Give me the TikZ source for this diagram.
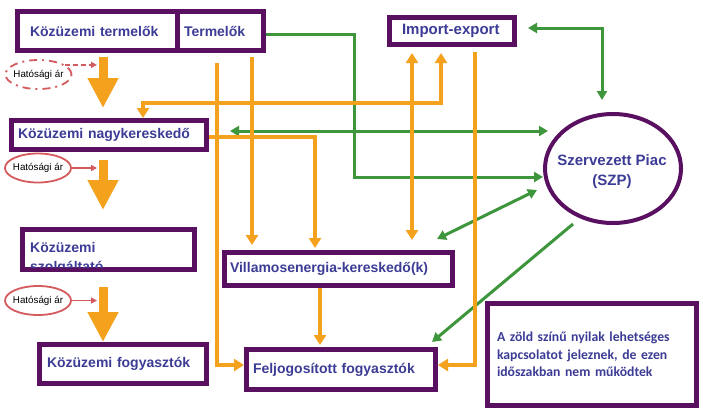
\documentclass[tikz,border=0pt]{standalone}
\usepackage{fontspec}
\setmainfont{Liberation Sans}
\newfontfamily\notefont{Carlito}
\usetikzlibrary{arrows.meta, shapes.geometric, calc}
\definecolor{PURPLE}{HTML}{5A1060}
\definecolor{BLUE}{HTML}{3C3C96}
\definecolor{ORANGE}{HTML}{F4A11E}
\definecolor{GREEN}{HTML}{3E963C}
\definecolor{RED}{HTML}{D45A5E}

\begin{document}
\begin{tikzpicture}[x=1pt, y=-1pt,
    box/.style={draw=PURPLE, line width=5pt, inner sep=0pt, align=left, text=BLUE, font=\fontsize{14}{17}\selectfont\bfseries},
    hat/.style={ellipse, draw=RED, line width=1.8pt, inner sep=0pt, minimum width=66pt, minimum height=29pt, font=\fontsize{9.8}{11}\selectfont},
    redarr/.style={RED, line width=1.5pt, -{Triangle[width=6pt,length=6pt]}, shorten >=6pt},
    bigarr/.style={ORANGE, line width=9pt, -{Triangle[width=29pt,length=30pt]}},
    oline/.style={ORANGE, line width=4pt},
    gline/.style={GREEN, line width=3pt},
    otip/.tip={Triangle[width=12pt,length=10pt]},
    gtip/.tip={Triangle[width=10pt,length=9pt]}]
    \fill[white] (0,0) rectangle (703,416);
    \useasboundingbox (0,0) rectangle (703,416);

    % routing columns and rows
    \coordinate (bigcol) at (103,0);
    \coordinate (colA) at (217,0);
    \coordinate (colB) at (252,0);
    \coordinate (colC) at (315,0);
    \coordinate (colD) at (143,0);
    \coordinate (colE) at (441,0);
    \coordinate (colF) at (412,0);
    \coordinate (colG) at (475,0);
    \coordinate (colH) at (320,0);
    \coordinate (colI) at (354,0);
    \coordinate (colJ) at (602,0);
    \coordinate (rowA) at (0,103);
    \coordinate (rowB) at (0,365);
    \coordinate (rowC) at (0,177);
    \coordinate (rowD) at (0,131);
    \coordinate (rowE) at (0,137);
    \coordinate (rowF) at (0,34);
    \coordinate (rowG) at (0,28);
    \coordinate (g2r) at (548,131);

    % boxes
    \node[box, minimum width=160pt, minimum height=39pt, text width=135pt] (kt) at (97.5,31) {Közüzemi termelők};
    \node[box, minimum width=86pt, minimum height=39pt, text width=73pt] (term) at (220.5,31) {Termelők};
    \node[box, minimum width=125pt, minimum height=27pt, text width=100pt, font=\fontsize{15}{17}\selectfont\bfseries] (ie) at (452,31) {Import-export};
    \node[box, minimum width=195pt, minimum height=29pt, text width=182pt] (nk) at (109,135) {Közüzemi nagykereskedő};
    \node[box, minimum width=172pt, minimum height=40pt] (szolg) at (108.5,249.5) {};
    \begin{scope}
        \clip ([shift={(5,5)}]szolg.north west) rectangle ([shift={(-5,-5)}]szolg.south east);
        \node[anchor=north west, inner sep=0pt, align=left, text=BLUE, font=\fontsize{14}{19}\selectfont\bfseries] (szolglbl) at (30,242) {Közüzemi\\szolgáltató};
    \end{scope}
    \node[box, minimum width=167pt, minimum height=39pt, text width=152pt] (kf) at (123,364) {Közüzemi fogyasztók};
    \node[box, minimum width=228pt, minimum height=33pt, text width=217pt] (vk) at (338.5,269) {Villamosenergia-kereskedő(k)};
    \node[box, minimum width=189pt, minimum height=40pt, text width=176pt] (ff) at (341,369.5) {Feljogosított fogyasztók};
    \node[ellipse, draw=PURPLE, line width=4pt, inner sep=0pt, minimum width=136pt, minimum height=109pt] (szp) at (613,168.5) {};
    \node[align=center, inner sep=0pt, text=BLUE, font=\fontsize{15}{20}\selectfont\bfseries] (szplbl) at (612,172) {Szervezett Piac\\(SZP)};
    \node[box, minimum width=209pt, minimum height=102pt, text width=190pt, font=\notefont\bfseries\fontsize{13.7}{17.5}\selectfont] (note) at (592,354.5) {A zöld színű nyilak lehetséges\\kapcsolatot jeleznek, de ezen\\időszakban nem működtek};

    % hatosagi ar
    \node[hat, dash pattern=on 8pt off 5pt on 2pt off 5pt] (h1) at (38.5,74.5) {\makebox[0pt]{Hatósági ár}};
    \node[hat] (h2) at (38,168) {\makebox[0pt]{Hatósági ár}};
    \node[hat] (h3) at (38,300.5) {\makebox[0pt]{Hatósági ár}};
    \draw[redarr, dash pattern=on 5pt off 3pt] (h1.20) -- (h1.20 -| bigcol);
    \draw[redarr] (h2.east) -- (h2.east -| bigcol);
    \draw[redarr] (h3.east) -- (h3.east -| bigcol);

    % big arrows
    \draw[bigarr, shorten <=4pt, shorten >=10pt] (kt.south -| bigcol) -- (nk.north -| bigcol);
    \draw[bigarr, shorten <=8pt, shorten >=17pt] (nk.south -| bigcol) -- (szolg.north -| bigcol);
    \draw[bigarr, shorten <=15pt] (szolg.south -| bigcol) -- (kf.north -| bigcol);

    % green links
    \draw[gline, -gtip] (term.east |- rowF) -| (colI |- rowC) -- (szp.west |- rowC);
    \draw[gline, gtip-gtip, shorten <=21pt] (nk.east |- rowD) -- (g2r);
    \draw[gline, gtip-gtip, shorten <=11pt, shorten >=12pt] (ie.east |- rowG) -| (colJ |- szp.north);
    \draw[gline, gtip-gtip] ([shift={(-18,-11)}]vk.north east) -- ([shift={(-6,21.5)}]szp.west);
    \draw[gline, -gtip] ([shift={(-40,-1)}]szp.south) -- ([shift={(-6,-5)}]ff.north east);

    % orange links
    \draw[oline, -otip, shorten <=10pt] (colA |- term.south) |- (ff.west |- rowB);
    \draw[oline, -otip, shorten <=4pt, shorten >=5pt] (colB |- term.south) -- (colB |- vk.north);
    \draw[oline, -otip, shorten >=2pt] (nk.east |- rowE) -| (colC |- vk.north);
    \draw[oline, otip-otip, shorten >=6pt] (colD |- nk.north) |- (colE |- rowA) -- (colE |- ie.south);
    \draw[oline, otip-otip, shorten <=6pt, shorten >=10pt] (colF |- ie.south) -- (colF |- vk.north);
    \draw[oline, -otip, shorten <=5pt] (colG |- ie.south) |- (ff.east |- rowB);
    \draw[oline, -otip, shorten >=2pt] (colH |- vk.south) -- (colH |- ff.north);
\end{tikzpicture}
\end{document}
